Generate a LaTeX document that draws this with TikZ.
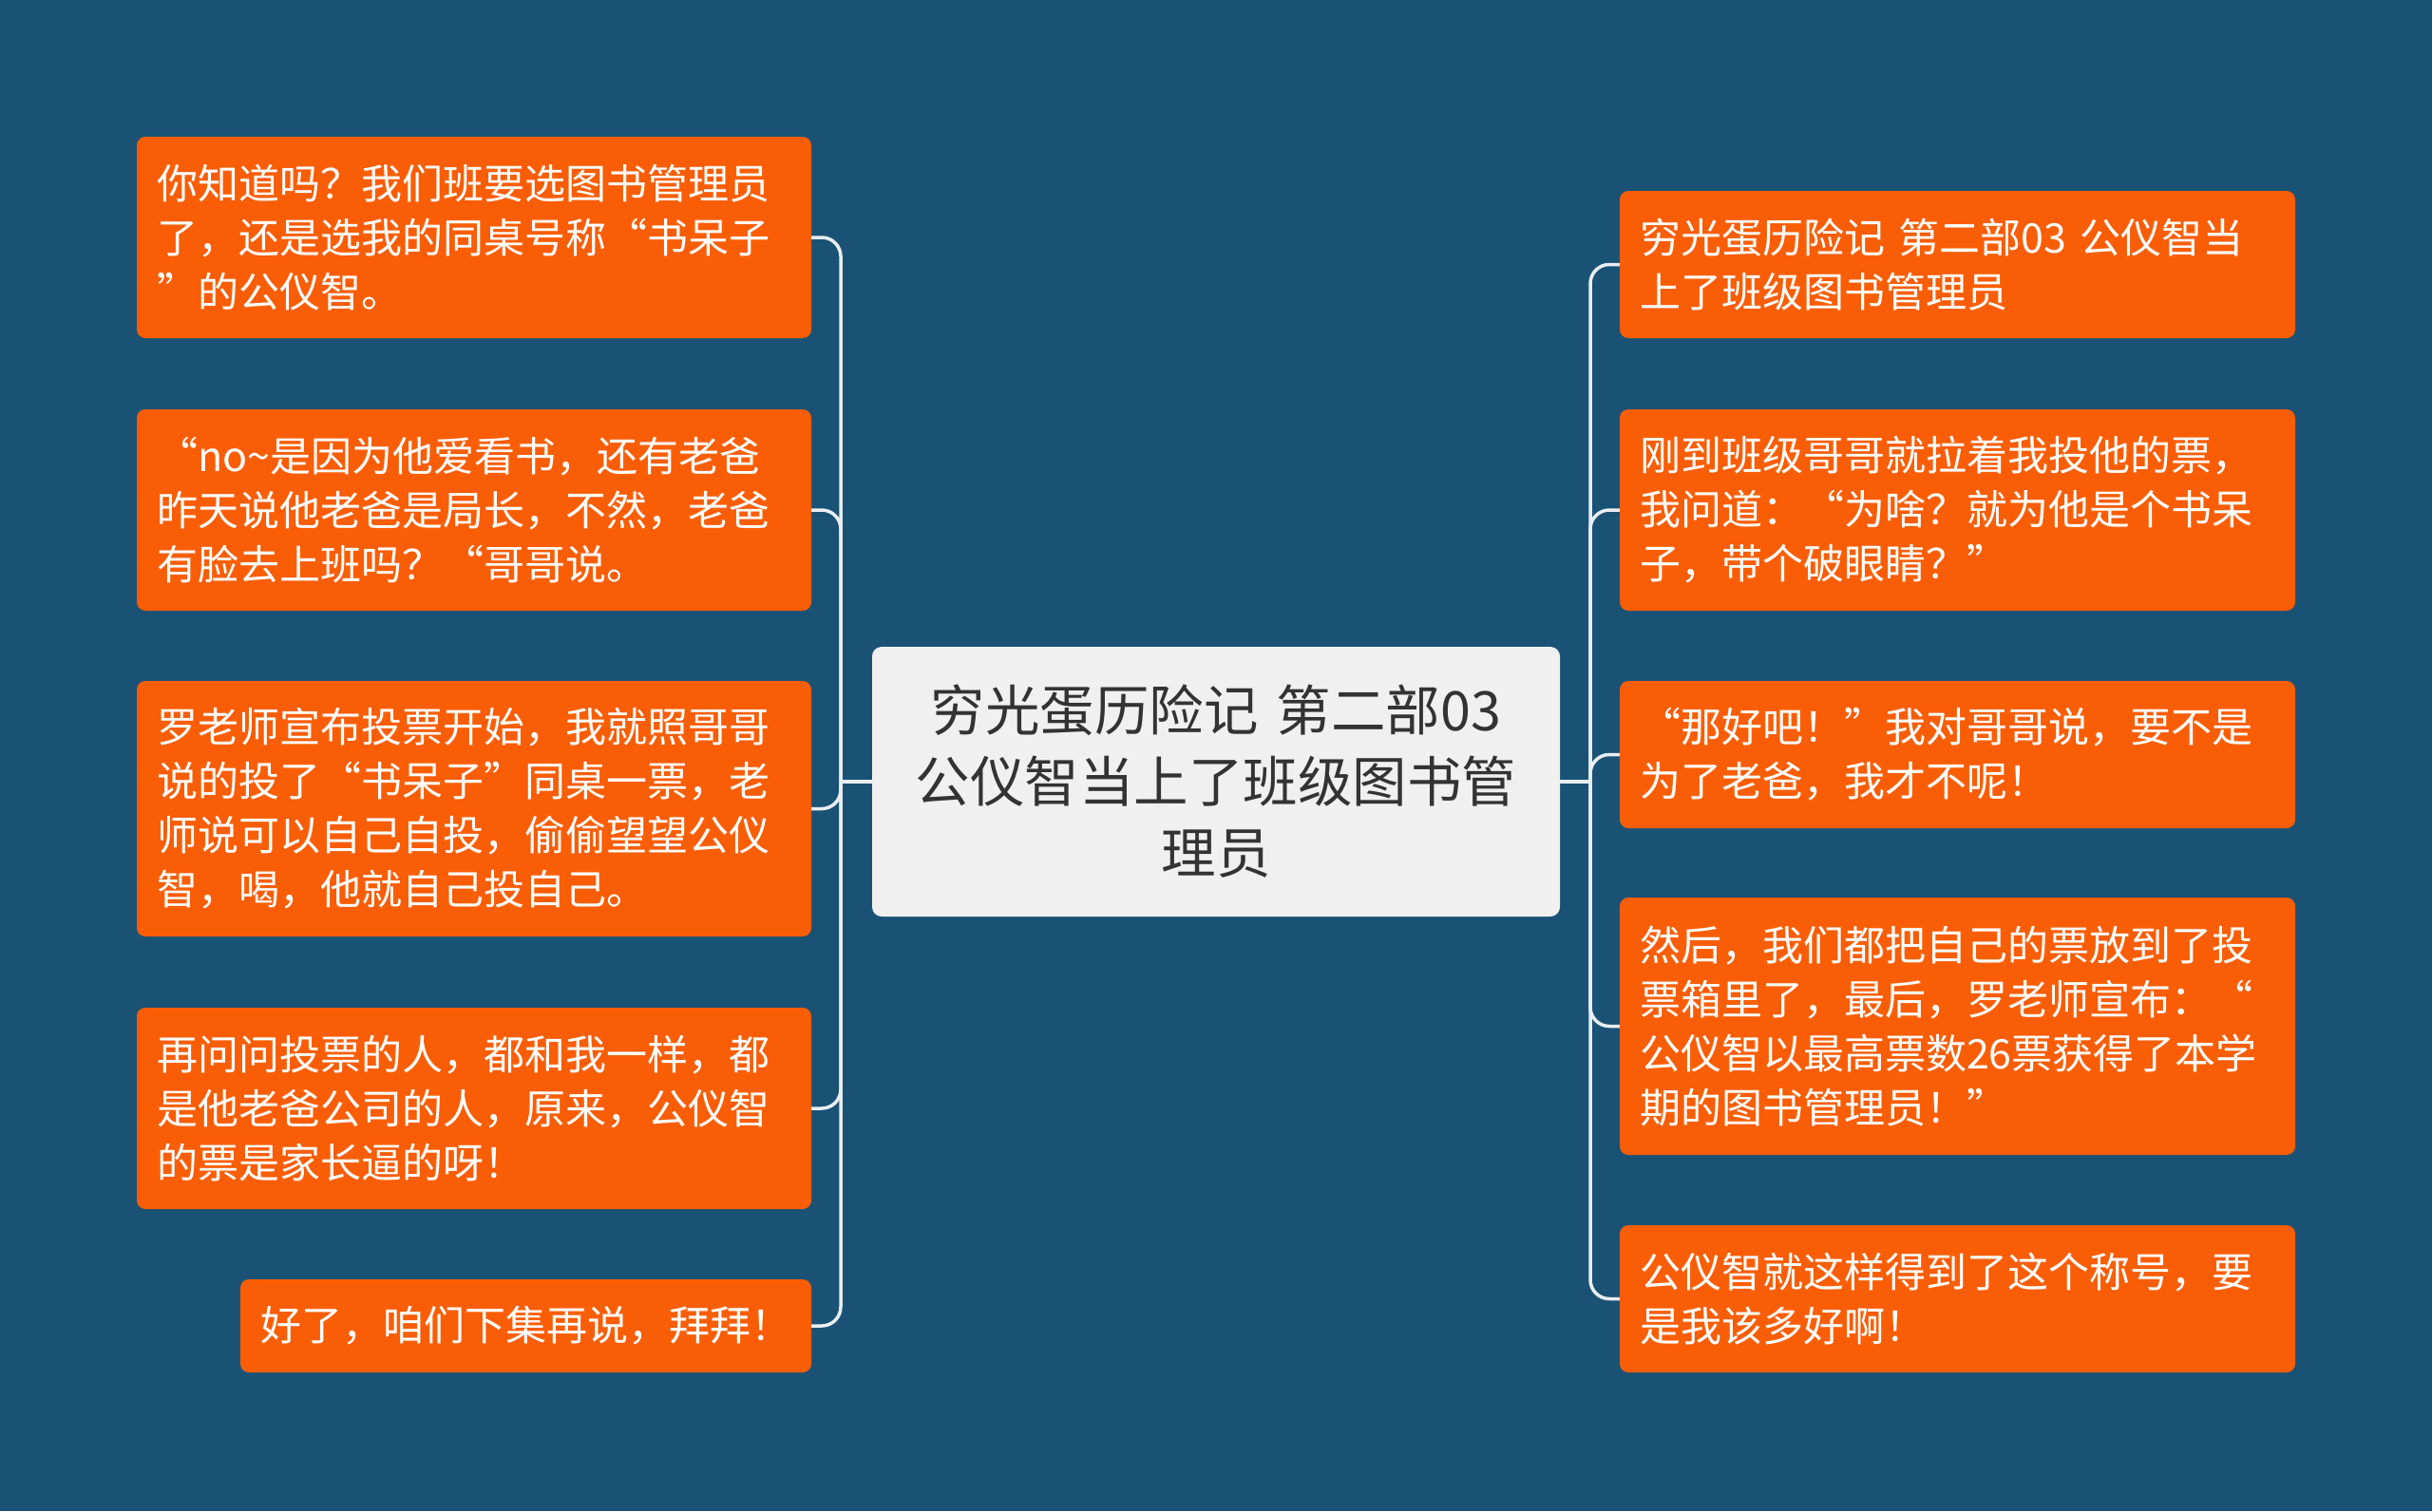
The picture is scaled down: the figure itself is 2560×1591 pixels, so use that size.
\documentclass[tikz,border=0pt]{standalone}
\usepackage{fontspec}
\setmainfont{Noto Sans CJK SC}
\definecolor{bgblue}{RGB}{26,82,118}
\definecolor{boxorange}{RGB}{249,94,6}
\definecolor{centerfill}{RGB}{240,240,240}
\definecolor{linecol}{RGB}{232,238,242}
\definecolor{darktext}{RGB}{51,51,51}
\begin{document}
\begin{tikzpicture}[x=1pt,y=-1pt,
  leaf/.style={fill=boxorange, draw=none, rounded corners=9pt, text=white,
    align=left, inner xsep=21pt, inner ysep=0pt,
    font=\fontsize{43}{57}\selectfont},
  root/.style={fill=centerfill, draw=none, rounded corners=10pt, text=darktext,
    align=center, inner sep=0pt, minimum width=724pt, minimum height=284pt,
    text width=690pt, font=\fontsize{57.5}{75}\selectfont},
  conn/.style={draw=linecol, line width=3.5pt, rounded corners=20pt}]
\useasboundingbox[fill=bgblue] (0,0) rectangle (2560,1591);

\node[root] (c) at (1280,823) {穷光蛋历险记 第二部03\\公仪智当上了班级图书管\\理员};

% left
\node[leaf, text width=668pt, minimum height=212pt] (L1) at (499,250)
 {你知道吗？我们班要选图书管理员\\了，还是选我的同桌号称“书呆子\\”的公仪智。};
\node[leaf, text width=668pt, minimum height=212pt] (L2) at (499,537)
 {“no\textasciitilde 是因为他爱看书，还有老爸\\昨天说他老爸是局长，不然，老爸\\有脸去上班吗？“哥哥说。};
\node[leaf, text width=668pt, minimum height=269pt] (L3) at (499,851.5)
 {罗老师宣布投票开始，我就照哥哥\\说的投了“书呆子”同桌一票，老\\师说可以自己自投，偷偷望望公仪\\智，喝，他就自己投自己。};
\node[leaf, text width=668pt, minimum height=212pt] (L4) at (499,1167)
 {再问问投票的人，都和我一样，都\\是他老爸公司的人，原来，公仪智\\的票是家长逼的呀！};
\node[leaf, text width=559pt, minimum height=98pt] (L5) at (553.5,1396)
 {好了，咱们下集再说，拜拜！};

% right
\node[leaf, text width=669pt, minimum height=155pt] (R1) at (2060.5,278.5)
 {穷光蛋历险记 第二部03 公仪智当\\上了班级图书管理员};
\node[leaf, text width=669pt, minimum height=212pt] (R2) at (2060.5,537)
 {刚到班级哥哥就拉着我投他的票，\\我问道：“为啥？就为他是个书呆\\子，带个破眼睛？”};
\node[leaf, text width=669pt, minimum height=155pt] (R3) at (2060.5,794.5)
 {“那好吧！”我对哥哥说，要不是\\为了老爸，我才不呢！};
\node[leaf, text width=669pt, minimum height=271pt] (R4) at (2060.5,1080.5)
 {然后，我们都把自己的票放到了投\\票箱里了，最后，罗老师宣布：“\\公仪智以最高票数26票获得了本学\\期的图书管理员！”};
\node[leaf, text width=669pt, minimum height=155pt] (R5) at (2060.5,1367.5)
 {公仪智就这样得到了这个称号，要\\是我该多好啊！};

\coordinate (jL) at (885,823);
\coordinate (jR) at (1674,823);

\draw[conn] (c.west) -- (jL);
\foreach \n in {L1,L2,L3,L4,L5} \draw[conn] (jL) |- (\n.east);
\draw[conn] (c.east) -- (jR);
\foreach \n in {R1,R2,R3,R4,R5} \draw[conn] (jR) |- (\n.west);
\end{tikzpicture}
\end{document}
